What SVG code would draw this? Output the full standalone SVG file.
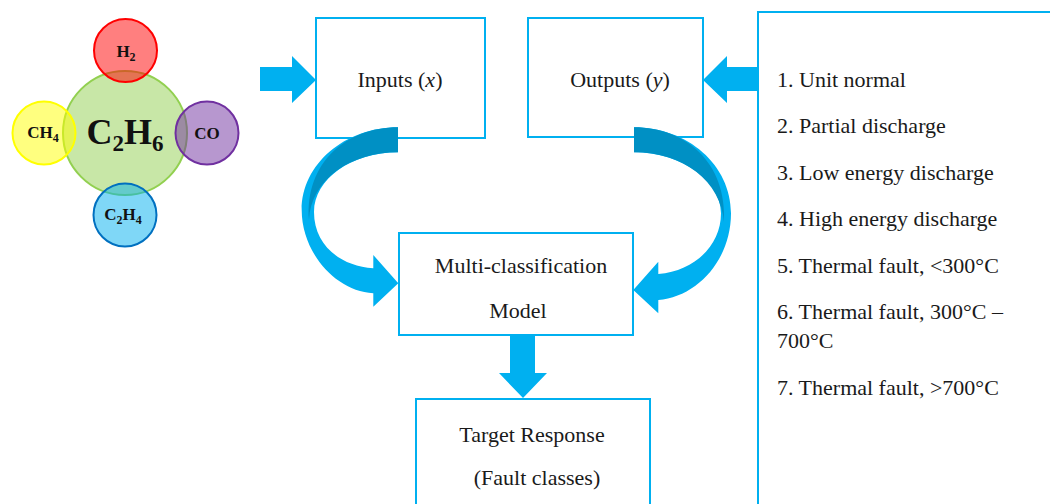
<svg xmlns="http://www.w3.org/2000/svg" width="1050" height="504" viewBox="0 0 1050 504">
<style>
.box{fill:#ffffff;stroke:#00b0f0;stroke-width:2}
.t{font-family:"Liberation Serif","Times New Roman",serif;font-size:22px;fill:#1a1a1a}
.m{font-family:"Liberation Serif","Times New Roman",serif;font-weight:bold;fill:#111111}
.light{fill:#00b0f0}
.dark{fill:#0090c4}
.c{stroke-width:2}
</style>
<rect width="1050" height="504" fill="#ffffff"/>
<g id="molecule">
<circle cx="125" cy="133" r="62" fill="#92d050" fill-opacity="0.5" stroke="#92d050" class="c"/>
<circle cx="125.5" cy="50.5" r="31.5" fill="#ff0000" fill-opacity="0.5" stroke="#ff0000" class="c"/>
<circle cx="44" cy="133" r="31.5" fill="#ffff00" fill-opacity="0.5" stroke="#ffff00" class="c"/>
<circle cx="207" cy="133" r="31.5" fill="#7030a0" fill-opacity="0.5" stroke="#7030a0" class="c"/>
<circle cx="125" cy="215" r="31.5" fill="#00b0f0" fill-opacity="0.5" stroke="#0070c0" class="c"/>
<text class="m" x="125" y="144" text-anchor="middle" font-size="36">C<tspan font-size="23" dy="7">2</tspan><tspan dy="-7">H</tspan><tspan font-size="23" dy="7">6</tspan></text>
<text class="m" x="126" y="57" text-anchor="middle" font-size="17">H<tspan font-size="12" dy="4">2</tspan></text>
<text class="m" x="43" y="138" text-anchor="middle" font-size="17">CH<tspan font-size="12" dy="4">4</tspan></text>
<text class="m" x="207" y="139" text-anchor="middle" font-size="17">CO</text>
<text class="m" x="123" y="220" text-anchor="middle" font-size="17">C<tspan font-size="12" dy="4">2</tspan><tspan dy="-4">H</tspan><tspan font-size="12" dy="4">4</tspan></text>
</g>
<g id="inputs">
<rect class="box" x="316" y="18" width="169" height="120"/>
<text class="t" x="400" y="87" text-anchor="middle">Inputs (<tspan font-style="italic">x</tspan>)</text>
</g>
<g id="outputs">
<rect class="box" x="528" y="18" width="175" height="119"/>
<text class="t" x="620" y="87" text-anchor="middle">Outputs (<tspan font-style="italic">y</tspan>)</text>
</g>
<g id="model">
<rect class="box" x="399" y="233" width="234" height="102"/>
<text class="t" x="521" y="273" text-anchor="middle">Multi-classification</text>
<text class="t" x="518" y="318" text-anchor="middle">Model</text>
</g>
<g id="target">
<rect class="box" x="416" y="399" width="234" height="120"/>
<text class="t" x="532" y="442" text-anchor="middle">Target Response</text>
<text class="t" x="537" y="485" text-anchor="middle">(Fault classes)</text>
</g>
<g id="classes">
<rect class="box" x="758" y="12" width="300" height="510"/>
<text class="t" x="777" y="87">1. Unit normal</text>
<text class="t" x="777" y="133">2. Partial discharge</text>
<text class="t" x="777" y="180">3. Low energy discharge</text>
<text class="t" x="777" y="226">4. High energy discharge</text>
<text class="t" x="777" y="273">5. Thermal fault, &lt;300°C</text>
<text class="t" x="777" y="319">6. Thermal fault, 300°C –</text>
<text class="t" x="777" y="348">700°C</text>
<text class="t" x="777" y="395">7. Thermal fault, &gt;700°C</text>
</g>
<g id="connectors">
<polygon class="light" points="260,67 292,67 292,56 316,80 292,103 292,91 260,91"/>
<polygon class="light" points="757,67 727,67 727,56 703,80 727,103 727,91 757,91"/>
<polygon class="light" points="510,335 535,335 535,373 547,373 523,398 499,373 510,373"/>
<path class="light" d="M398,127.3 C344.8,127.3 301.7,164.3 301.7,210 C301.7,252 335,291 373.3,293.3 L373.3,306.7 L398.3,283.3 L373.3,255 L373.3,268.3 C340,266 314,245 314,212 C314,179 351.6,152.3 398,152.3 Z"/>
<path class="dark" d="M398,127.3 C346,127.3 305,163 309,220 C311,180 350,152.3 398,152.3 Z"/>
<path class="light" d="M634,127.3 C687.6,127.3 731,165 731,213.3 C731,260 697,297 658.3,300 L658.3,313.3 L633.3,290 L658.3,261.7 L658.3,274 C695,271 721,245 721,213.3 C721,180 680,152.3 634,152.3 Z"/>
<path class="dark" d="M634,127.3 C686,127.3 727,163 724,222 C721,182 684,152.3 634,152.3 Z"/>
</g>
</svg>
